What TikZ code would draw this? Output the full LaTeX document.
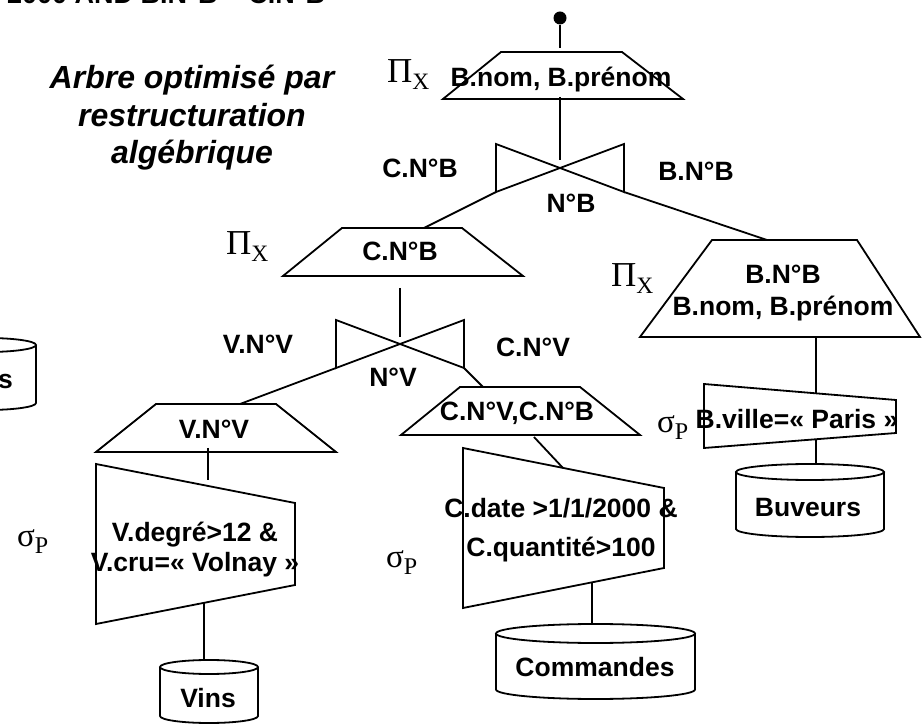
\documentclass[tikz,border=0pt]{standalone}
\usepackage{fontspec}
\setmainfont{Liberation Sans}
\newfontfamily\grk{Liberation Serif}
\newcommand{\opPi}{{\grk\fontsize{35}{35}\selectfont Π\raisebox{-7pt}{\fontsize{23.5}{23.5}\selectfont X}}}
\newcommand{\opSig}{{\grk\fontsize{33}{33}\selectfont σ\raisebox{-7pt}{\fontsize{24}{24}\selectfont P}}}
\begin{document}
\begin{tikzpicture}[x=1pt,y=-1pt,
  shp/.style={draw, line width=1.8pt, line join=miter},
  con/.style={draw, line width=1.8pt},
  lbl/.style={font=\fontsize{26.5}{30}\selectfont\bfseries, inner sep=0pt, anchor=base},
  blk/.style={font=\fontsize{26.5}{30}\selectfont\bfseries, inner sep=0pt, align=center},
  ttl/.style={font=\fontsize{32}{37.5}\selectfont\bfseries\itshape, align=center, inner sep=0pt},
  op/.style={inner sep=0pt, anchor=base west}]
\useasboundingbox (0,0) rectangle (922,727);

% partly visible text at the top edge
\node[op, font=\fontsize{27}{27}\selectfont\bfseries] (prev) at (7,3.5) {2000 AND B.N°B = C.N°B};

% title
\node[ttl] (title) at (192,118) {Arbre optimisé par\\restructuration\\algébrique};

% root
\node[circle, fill, inner sep=0pt, minimum size=13pt] (root) at (560,18) {};

% projection 1
\draw[shp] (501,52) -- (622,52) -- (683,99) -- (443,99) -- cycle;
\coordinate (p1t) at (560,48);
\coordinate (p1b) at (560,97);
\node[lbl] (p1) at (561,87) {B.nom, B.prénom};
\node[op] (pi1) at (387,83) {\opPi};

% join 1
\draw[shp] (496,144) -- (624,192) -- (624,144) -- (496,192) -- cycle;
\coordinate (j1top) at (560,160);
\coordinate (j1l) at (496,192);
\coordinate (j1r) at (624,192);
\node[lbl] (lcnb) at (420,178) {C.N°B};
\node[lbl] (lbnb) at (696,181) {B.N°B};
\node[lbl] (lnb) at (571,213) {N°B};

\draw[con] (root) -- (p1t);
\draw[con] (p1b) -- (j1top);

% projection 2
\draw[shp] (342,228) -- (462,228) -- (523,276) -- (283,276) -- cycle;
\node[lbl] (p2) at (400,261) {C.N°B};
\node[op] (pi2) at (226,255) {\opPi};
\coordinate (p2t) at (424,228);
\coordinate (p2b) at (400,288);
\draw[con] (j1l) -- (p2t);

% join 2
\draw[shp] (336,320) -- (464,368) -- (464,320) -- (336,368) -- cycle;
\coordinate (j2top) at (400,337);
\coordinate (j2l) at (336,368);
\coordinate (j2r) at (464,368);
\node[lbl] (lvnv) at (258,354) {V.N°V};
\node[lbl] (lcnv) at (533,357) {C.N°V};
\node[lbl] (lnv) at (393,387) {N°V};
\draw[con] (p2b) -- (j2top);

% projection 3
\draw[shp] (156,404) -- (276,404) -- (336,452) -- (96,452) -- cycle;
\node[lbl] (p3) at (214,439) {V.N°V};
\coordinate (p3t) at (240,404);
\coordinate (p3b) at (208,448);
\draw[con] (j2l) -- (p3t);

% selection 1
\draw[shp] (96,464) -- (295,503) -- (295,585) -- (96,624) -- cycle;
\node[blk] (s1) at (195,550) {V.degré>12 \&\\V.cru=« Volnay »};
\node[op] (sig1) at (17,547) {\opSig};
\coordinate (s1t) at (208,480);
\coordinate (s1b) at (204,603);
\draw[con] (p3b) -- (s1t);

% Vins
\draw[shp] (209,667) ellipse [x radius=49pt, y radius=7pt];
\draw[shp] (160,667) -- (160,716) arc[start angle=180, end angle=360, x radius=49pt, y radius=7pt] -- (258,667);
\node[lbl] (vins) at (208,707) {Vins};
\coordinate (vinst) at (204,660);
\draw[con] (s1b) -- (vinst);

% projection 4
\draw[shp] (460,387) -- (580,387) -- (640,435) -- (401,435) -- cycle;
\node[lbl] (p4) at (517,421) {C.N°V,C.N°B};
\coordinate (p4t) at (483,387);
\coordinate (p4b) at (534,437);
\draw[con] (j2r) -- (p4t);

% selection 2
\draw[shp] (463,448) -- (664,488) -- (664,568) -- (463,608) -- cycle;
\node[blk, font=\fontsize{26.5}{39}\selectfont\bfseries] (s2) at (561,530) {C.date >1/1/2000 \&\\C.quantité>100};
\node[op] (sig2) at (386,567) {\opSig};
\coordinate (s2t) at (563,468);
\coordinate (s2b) at (592,583);
\draw[con] (p4b) -- (s2t);

% Commandes
\draw[shp] (595.5,633.5) ellipse [x radius=99.5pt, y radius=9.5pt];
\draw[shp] (496,633.5) -- (496,689.5) arc[start angle=180, end angle=360, x radius=99.5pt, y radius=9.5pt] -- (695,633.5);
\node[lbl] (com) at (595,676) {Commandes};
\coordinate (comt) at (592,624);
\draw[con] (s2b) -- (comt);

% projection 5
\draw[shp] (712,240) -- (857,240) -- (920,337) -- (640,337) -- cycle;
\node[blk, font=\fontsize{26.5}{32}\selectfont\bfseries] (p5) at (783,293.5) {B.N°B\\B.nom, B.prénom};
\node[op] (pi3) at (611,287) {\opPi};
\coordinate (p5t) at (767,240);
\coordinate (p5b) at (816,337);
\draw[con] (j1r) -- (p5t);

% selection 3
\draw[shp] (704,384) -- (896,400) -- (896,433) -- (704,448) -- cycle;
\node[lbl] (s3) at (797,429) {B.ville=« Paris »};
\node[op] (sig3) at (657,433) {\opSig};
\coordinate (s3t) at (816,393);
\coordinate (s3b) at (816,440);
\draw[con] (p5b) -- (s3t);

% Buveurs
\draw[shp] (810,472) ellipse [x radius=74pt, y radius=8pt];
\draw[shp] (736,472) -- (736,529) arc[start angle=180, end angle=360, x radius=74pt, y radius=8pt] -- (884,472);
\node[lbl] (buv) at (808,516) {Buveurs};
\coordinate (buvt) at (816,464);
\draw[con] (s3b) -- (buvt);

% partly visible cylinder at the left edge
\draw[shp] (-13,345) ellipse [x radius=49pt, y radius=7pt];
\draw[shp] (-62,345) -- (-62,403) arc[start angle=180, end angle=360, x radius=49pt, y radius=7pt] -- (36,345);
\node[lbl] (vins0) at (-15,389) {Vins};
\end{tikzpicture}
\end{document}
